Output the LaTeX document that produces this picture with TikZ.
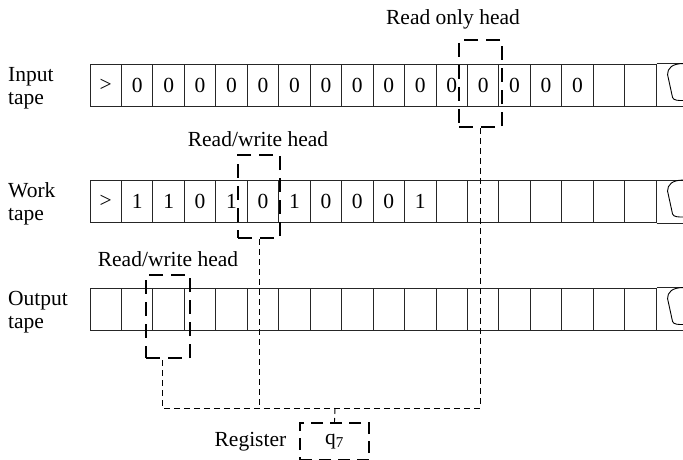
\documentclass[tikz,border=0pt]{standalone}
\usepackage{fontspec}
\setmainfont{Liberation Serif}
\usetikzlibrary{positioning,calc}

\begin{document}
\begin{tikzpicture}[
  x=1pt,y=-1pt,
  font=\fontsize{21.5}{23}\selectfont,
  node distance=10pt,
  cell/.style={draw=black!85,line width=0.9pt,minimum width=31.45pt,minimum height=42pt,inner sep=0pt},
  head/.style={draw,line width=2.4pt,dash pattern=on 14pt off 8pt,inner sep=0pt},
  link/.style={draw,line width=0.9pt,dash pattern=on 6pt off 4pt},
  tapelabel/.style={align=left,anchor=west,inner sep=0pt}
]
\clip (0,0) rectangle (683,460);

% tapes
\foreach \s [count=\i] in {>,0,0,0,0,0,0,0,0,0,0,0,0,0,0,0,{},{}}
  \node[cell] (in\i) at ({90+(\i-0.5)*31.45},85) {\s};
\foreach \s [count=\i] in {>,1,1,0,1,0,1,0,0,0,1,{},{},{},{},{},{},{}}
  \node[cell] (work\i) at ({90+(\i-0.5)*31.45},201.5) {\s};
\foreach \i in {1,...,18}
  \node[cell] (out\i) at ({90+(\i-0.5)*31.45},309) {};

% open ends of the tapes
\foreach \t in {in,work,out} {
  \draw[black!85,line width=0.9pt] (\t18.north east) -- ++(30,0);
  \draw[black!85,line width=0.9pt] (\t18.south east) -- ++(30,0);
  \draw[line width=0.9pt] ($(\t18.north east)+(27,0)$)
    .. controls +(-12,0) and +(0,-6) .. ++(-16,11)
    -- ++(5,23) .. controls +(1,3) and +(-5,0) .. ++(11,3);
}

\node[tapelabel] (inlabel) at (8,88) {Input\\tape};
\node[tapelabel] (worklabel) at (8,204) {Work\\tape};
\node[tapelabel] (outlabel) at (8,312) {Output\\tape};

% heads
\node[head,minimum width=43pt,minimum height=87pt] (inhead) at (480.5,83.5) {};
\node[head,minimum width=42pt,minimum height=83pt] (workhead) at (259,196.5) {};
\node[head,minimum width=44pt,minimum height=83pt] (outhead) at (168,316.5) {};

\node (inheadlabel) at (453,19) {Read only head};
\node (workheadlabel) at (258,139) {Read/write head};
\node (outheadlabel) at (168,259) {Read/write head};

% register
\node[head,dash pattern=on 12pt off 7pt,minimum width=69pt,minimum height=37pt] (register) at (334.5,441.5) {q\textsubscript{7}};
\node[left=9pt of register] (reglabel) {Register};

\coordinate (inbend) at (480,408);
\coordinate (outbend) at (162,408);
\coordinate (workjoin) at (259,408);
\coordinate (regjoin) at (335,408);
\draw[link] (inhead.south -| inbend) -- (inbend) -- (outbend) -- (outhead.south -| outbend);
\draw[link] (workhead.south) -- (workjoin);
\draw[link] (regjoin) -- (register.north);
\end{tikzpicture}
\end{document}
